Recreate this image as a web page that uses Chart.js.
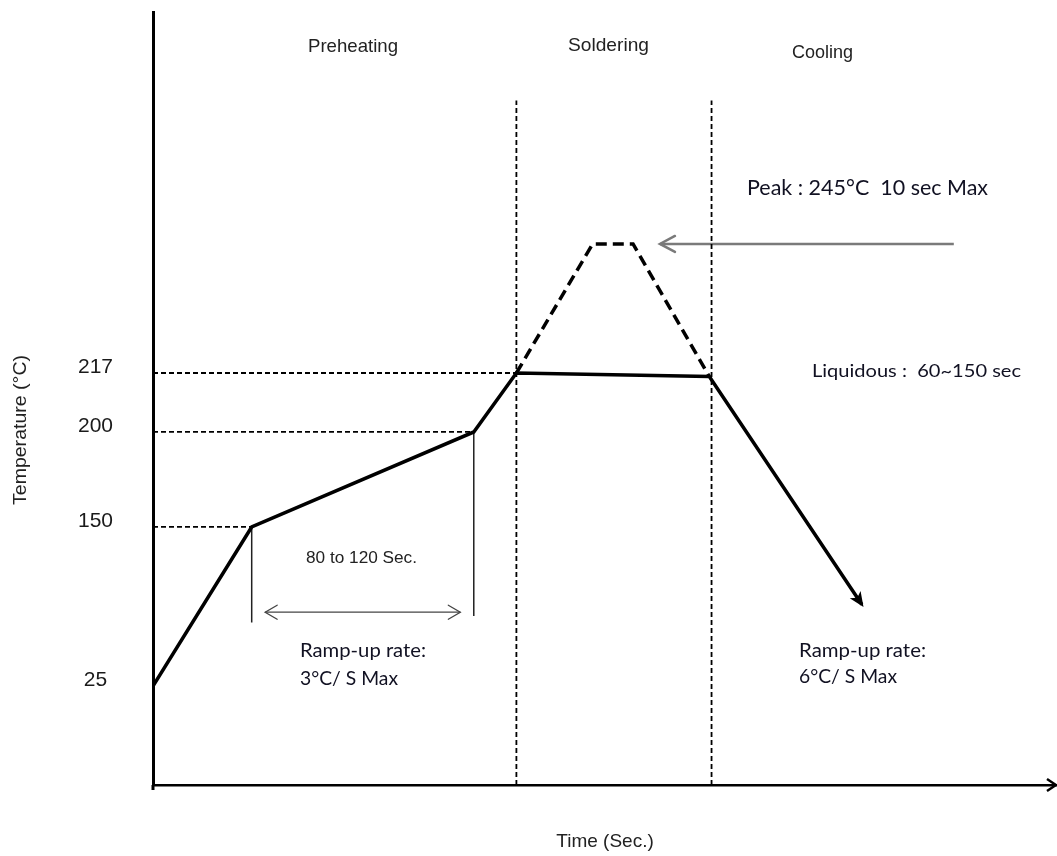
<!DOCTYPE html>
<html>
<head>
<meta charset="utf-8">
<script src="https://cdn.jsdelivr.net/npm/chart.js@4.4.1/dist/chart.umd.min.js"></script>
<style>
html,body{margin:0;padding:0;background:#fff;}
#wrap{width:1057px;height:856px;position:relative;}
</style>
</head>
<body>
<div id="wrap"><canvas id="c"></canvas></div>
<script>
// ---------------- data (time in s, temperature in °C) ----------------
const profileTime = [0, 44, 143, 162, 248, 316];
const profileTemp = [25, 150, 200, 217, 216, 89];
const peakTime = [162, 196, 214, 248];
const peakTemp = [217, 245, 245, 216];
const tempTicks = [25, 150, 200, 217];
const phaseNames = ['Preheating', 'Soldering', 'Cooling'];
const phaseStartTimes = [162, 249];
const phaseLineTopTemp = 279;
const soakBoundBottomTemps = [75, 80];
const soakWindowTime = [50, 137];
const soakWindowTemp = 83;
const peakPointerTime = [357, 226];
const peakPointerTemp = 245;

// ---------------- schematic (broken) temperature scale ----------------
const yBreakValues = [0, 25, 150, 200, 217, 245, 300];
const yBreakFractions = [0, 0.1281, 0.3338, 0.4567, 0.5330, 0.6999, 1];

class BrokenLinearScale extends Chart.LinearScale {
  _brokenDecimal(v) {
    const xs = yBreakValues, fs = yBreakFractions;
    let i = 1;
    while (i < xs.length - 1 && v > xs[i]) i++;
    const t = (v - xs[i - 1]) / (xs[i] - xs[i - 1]);
    return fs[i - 1] + t * (fs[i] - fs[i - 1]);
  }
  getPixelForValue(v) {
    return this.getPixelForDecimal(this._brokenDecimal(v));
  }
  getValueForPixel(p) {
    const d = this.getDecimalForPixel(p);
    const xs = yBreakValues, fs = yBreakFractions;
    let i = 1;
    while (i < fs.length - 1 && d > fs[i]) i++;
    const t = (d - fs[i - 1]) / (fs[i] - fs[i - 1]);
    return xs[i - 1] + t * (xs[i] - xs[i - 1]);
  }
}
BrokenLinearScale.id = 'brokenLinear';
BrokenLinearScale.defaults = Chart.LinearScale.defaults;
Chart.register(BrokenLinearScale);

// ---------------- datasets ----------------
const pts = (xs, ys) => xs.map((x, i) => ({x: x, y: ys[i]}));
const datasets = [];
datasets.push({label: 'Profile', data: pts(profileTime, profileTemp), borderColor: '#000', borderWidth: 3.5, arrowEnd: 'filled'});
datasets.push({label: 'Peak', data: pts(peakTime, peakTemp), borderColor: '#000', borderWidth: 3.5, borderDash: [11, 6]});
[1, 2, 3].forEach(i => {
  datasets.push({label: 'Guide ' + profileTemp[i], data: [{x: 0, y: profileTemp[i]}, {x: profileTime[i], y: profileTemp[i]}],
    borderColor: '#000', borderWidth: 1.8, borderDash: [5, 3]});
});
phaseStartTimes.forEach(t => {
  datasets.push({label: 'Phase ' + t, data: [{x: t, y: 0}, {x: t, y: phaseLineTopTemp}],
    borderColor: '#000', borderWidth: 1.8, borderDash: [5, 3]});
});
[1, 2].forEach((i, k) => {
  datasets.push({label: 'Soak bound ' + k, data: [{x: profileTime[i], y: profileTemp[i]}, {x: profileTime[i], y: soakBoundBottomTemps[k]}],
    borderColor: '#222', borderWidth: 1.5});
});
datasets.push({label: 'Soak window', data: [{x: soakWindowTime[0], y: soakWindowTemp}, {x: soakWindowTime[1], y: soakWindowTemp}],
  borderColor: '#444', borderWidth: 1.3, arrowStart: 'open', arrowEnd: 'open'});
datasets.push({label: 'Peak pointer', data: [{x: peakPointerTime[0], y: peakPointerTemp}, {x: peakPointerTime[1], y: peakPointerTemp}],
  borderColor: '#7a7a7a', borderWidth: 2.5, arrowEnd: 'open', headLen: 15, headHalf: 8});

// ---------------- drawing helpers ----------------
function fitText(ctx, text, x, y, size, width, family, color, weight) {
  ctx.save();
  ctx.font = (weight || 'normal') + ' ' + size + 'px ' + family;
  const w = ctx.measureText(text).width;
  let s = width / w;
  s = Math.max(0.8, Math.min(1.25, s));
  ctx.translate(x, y);
  ctx.scale(s, 1);
  ctx.fillStyle = color;
  ctx.textAlign = 'left';
  ctx.textBaseline = 'alphabetic';
  ctx.fillText(text, 0, 0);
  ctx.restore();
}
function arrowHead(ctx, tip, from, type, len, half, color, lw) {
  const a = Math.atan2(tip.y - from.y, tip.x - from.x);
  const c = Math.cos(a), s = Math.sin(a);
  ctx.save();
  ctx.strokeStyle = color; ctx.fillStyle = color; ctx.lineWidth = lw;
  ctx.lineJoin = 'miter'; ctx.lineCap = 'round';
  if (type === 'filled') {
    const tx = tip.x + c * 3, ty = tip.y + s * 3;
    ctx.beginPath();
    ctx.moveTo(tx, ty);
    ctx.lineTo(tx - c * len - s * half, ty - s * len + c * half);
    ctx.lineTo(tx - c * len * 0.75, ty - s * len * 0.75);
    ctx.lineTo(tx - c * len + s * half, ty - s * len - c * half);
    ctx.closePath();
    ctx.fill();
  } else {
    ctx.beginPath();
    ctx.moveTo(tip.x - c * len - s * half, tip.y - s * len + c * half);
    ctx.lineTo(tip.x, tip.y);
    ctx.lineTo(tip.x - c * len + s * half, tip.y - s * len - c * half);
    ctx.stroke();
  }
  ctx.restore();
}

const ARIAL = '"Liberation Sans", Arial, sans-serif';
const CALIBRI = 'Lato, "Open Sans", sans-serif';
const NOTE_COLOR = '#111122';

const annotationPlugin = {
  id: 'annotations',
  afterDraw(chart) {
    const ctx = chart.ctx;
    const area = chart.chartArea;
    // arrowheads on datasets
    chart.data.datasets.forEach((ds, i) => {
      const meta = chart.getDatasetMeta(i);
      const p = meta.data;
      if (!p || p.length < 2) return;
      const len = ds.headLen || (ds.arrowEnd === 'filled' ? 15 : 12);
      const half = ds.headHalf || (ds.arrowEnd === 'filled' ? 6.5 : 7);
      if (ds.arrowEnd) arrowHead(ctx, p[p.length - 1], p[p.length - 2], ds.arrowEnd, len, half, ds.borderColor, ds.borderWidth);
      if (ds.arrowStart) arrowHead(ctx, p[0], p[1], ds.arrowStart, len, half, ds.borderColor, ds.borderWidth);
    });
    // axis extensions / arrow
    ctx.save();
    ctx.strokeStyle = '#000';
    ctx.lineWidth = 3;
    ctx.beginPath();
    ctx.moveTo(area.left, area.bottom);
    ctx.lineTo(area.left, area.bottom + 5);
    ctx.stroke();
    ctx.lineWidth = 2.5;
    ctx.beginPath();
    ctx.moveTo(area.right - 10, area.bottom - 6);
    ctx.lineTo(area.right - 1, area.bottom);
    ctx.lineTo(area.right - 10, area.bottom + 6);
    ctx.stroke();
    ctx.restore();

    // phase labels
    fitText(ctx, phaseNames[0], 308, 52, 18.5, 90, ARIAL, '#222');
    fitText(ctx, phaseNames[1], 568, 51, 19, 81, ARIAL, '#222');
    fitText(ctx, phaseNames[2], 792, 58, 18.5, 61, ARIAL, '#222');
    // notes
    fitText(ctx, 'Peak : 245°C  10 sec Max', 747, 195, 21, 241, CALIBRI, NOTE_COLOR);
    fitText(ctx, 'Liquidous :  60~150 sec', 812, 377, 18, 209, CALIBRI, NOTE_COLOR);
    fitText(ctx, '80 to 120 Sec.', 306, 563, 16, 111, ARIAL, '#222');
    fitText(ctx, 'Ramp-up rate:', 300, 657, 19.5, 126, CALIBRI, NOTE_COLOR);
    fitText(ctx, '3°C/ S Max', 300, 685, 19, 98, CALIBRI, NOTE_COLOR);
    fitText(ctx, 'Ramp-up rate:', 799, 657, 19.5, 127, CALIBRI, NOTE_COLOR);
    fitText(ctx, '6°C/ S Max', 799, 683, 19, 98, CALIBRI, NOTE_COLOR);

    // y-axis title (rotated)
    ctx.save();
    ctx.translate(21.5, 430);
    ctx.rotate(-Math.PI / 2);
    ctx.font = '18px ' + ARIAL;
    const t = 'Temperature (°C)';
    const w = ctx.measureText(t).width;
    ctx.scale(Math.max(0.8, Math.min(1.25, 150 / w)), 1);
    ctx.fillStyle = '#222';
    ctx.textAlign = 'center';
    ctx.textBaseline = 'middle';
    ctx.fillText(t, 0, 0);
    ctx.restore();
  }
};

new Chart(document.getElementById('c'), {
  type: 'line',
  data: {datasets: datasets},
  options: {
    responsive: true,
    maintainAspectRatio: false,
    animation: false,
    devicePixelRatio: 1,
    events: [],
    parsing: true,
    layout: {padding: {top: 12, left: 0, right: 0, bottom: 0}},
    elements: {
      point: {radius: 0, hoverRadius: 0},
      line: {tension: 0, fill: false, borderCapStyle: 'butt', borderJoinStyle: 'miter'}
    },
    plugins: {legend: {display: false}, tooltip: {enabled: false}, title: {display: false}},
    scales: {
      x: {
        type: 'linear', min: 0, max: 403,
        grid: {display: false, drawTicks: false},
        border: {display: true, color: '#000', width: 2.5},
        ticks: {display: false},
        title: {display: true, text: 'Time (Sec.)', color: '#222', font: {family: ARIAL, size: 19}, padding: {top: 0, bottom: 3}},
        afterFit: (s) => { s.height = 71; s.paddingLeft = 0; s.paddingRight = 0; }
      },
      y: {
        type: 'brokenLinear', min: 0, max: 300,
        grid: {display: false, drawTicks: false},
        border: {display: true, color: '#000', width: 3},
        afterBuildTicks: (s) => { s.ticks = tempTicks.map(v => ({value: v})); },
        ticks: {
          color: '#1a1a1a', font: {family: ARIAL, size: 21}, padding: 40, crossAlign: 'center',
          labelOffset: -6, autoSkip: false,
          callback: (v) => String(v)
        },
        afterFit: (s) => { s.width = 153; s.paddingTop = 0; s.paddingBottom = 0; }
      }
    }
  },
  plugins: [annotationPlugin]
});
</script>
</body>
</html>
